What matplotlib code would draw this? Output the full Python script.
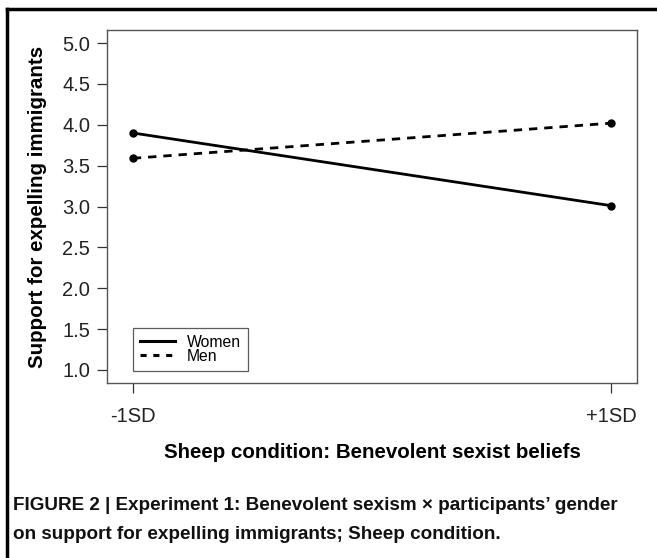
import numpy as np
import matplotlib.pyplot as plt
from matplotlib.lines import Line2D

# data
x_labels = ['-1SD', '+1SD']
women = [3.90, 3.01]
men = [3.59, 4.02]
y_ticks = [1.0, 1.5, 2.0, 2.5, 3.0, 3.5, 4.0, 4.5, 5.0]

plt.rcParams['font.family'] = ['Liberation Sans', 'DejaVu Sans']

fig = plt.figure(figsize=(6.57, 5.58), dpi=100)
ax = fig.add_axes([107 / 657, 1 - 383 / 558, 530 / 657, 353 / 558])

xpos = np.arange(len(x_labels))
ax.plot(xpos, women, color='black', lw=2.0, marker='o', ms=5, solid_capstyle='butt')
ax.plot(xpos, men, color='black', lw=2.0, marker='o', ms=5, linestyle=(0, (3, 2.5)))

ax.set_xlim(-0.054, 1.054)
ax.set_ylim(0.84, 5.16)
ax.set_xticks(xpos)
ax.set_xticklabels(x_labels)
ax.set_yticks(y_ticks)
ax.set_yticklabels(['%.1f' % v for v in y_ticks])
ax.tick_params(axis='both', direction='out', length=7, width=0.9, color='#333333',
               labelsize=14.5, labelcolor='#222222')
ax.tick_params(axis='y', pad=5)
ax.tick_params(axis='x', pad=10)
for s in ax.spines.values():
    s.set_color('#555555')
    s.set_linewidth(1.0)

ax.set_ylabel('Support for expelling immigrants', fontsize=14.8, fontweight='bold')
ax.yaxis.set_label_coords((38 - 107) / 530, 0.5)
ax.set_xlabel('Sheep condition: Benevolent sexist beliefs', fontsize=14.8, fontweight='bold')
ax.xaxis.set_label_coords(0.5, -(452 - 383) / 353)
ax.xaxis.label.set_va('center')
ax.yaxis.label.set_va('center')

handles = [Line2D([0], [0], color='black', lw=2.2),
           Line2D([0], [0], color='black', lw=2.2, linestyle=(0, (2, 2.2)))]
leg = ax.legend(handles, ['Women', 'Men'], loc='lower left', bbox_to_anchor=(26 / 530, 12 / 353),
                fontsize=11.3, frameon=True, fancybox=False, handlelength=2.2,
                labelspacing=-0.05, borderpad=0.45, handletextpad=0.8, borderaxespad=0)
leg.get_frame().set_edgecolor('#333333')
leg.get_frame().set_linewidth(0.9)

# figure frame: top and left rules
fig.add_artist(Line2D([7 / 657, 656 / 657], [1 - 9 / 558, 1 - 9 / 558], color='black', lw=2.5,
                      transform=fig.transFigure))
fig.add_artist(Line2D([7 / 657, 7 / 657], [0, 1 - 9 / 558], color='black', lw=2.5,
                      transform=fig.transFigure))

caption = ("FIGURE 2 | Experiment 1: Benevolent sexism \u00d7 participants\u2019 gender\n"
           "on support for expelling immigrants; Sheep condition.")
fig.text(13 / 657, 1 - 520 / 558, caption, ha='left', va='center', fontsize=13.6,
         fontweight='bold', linespacing=1.95, color='#111111')

fig.savefig('out.png', dpi=100)
